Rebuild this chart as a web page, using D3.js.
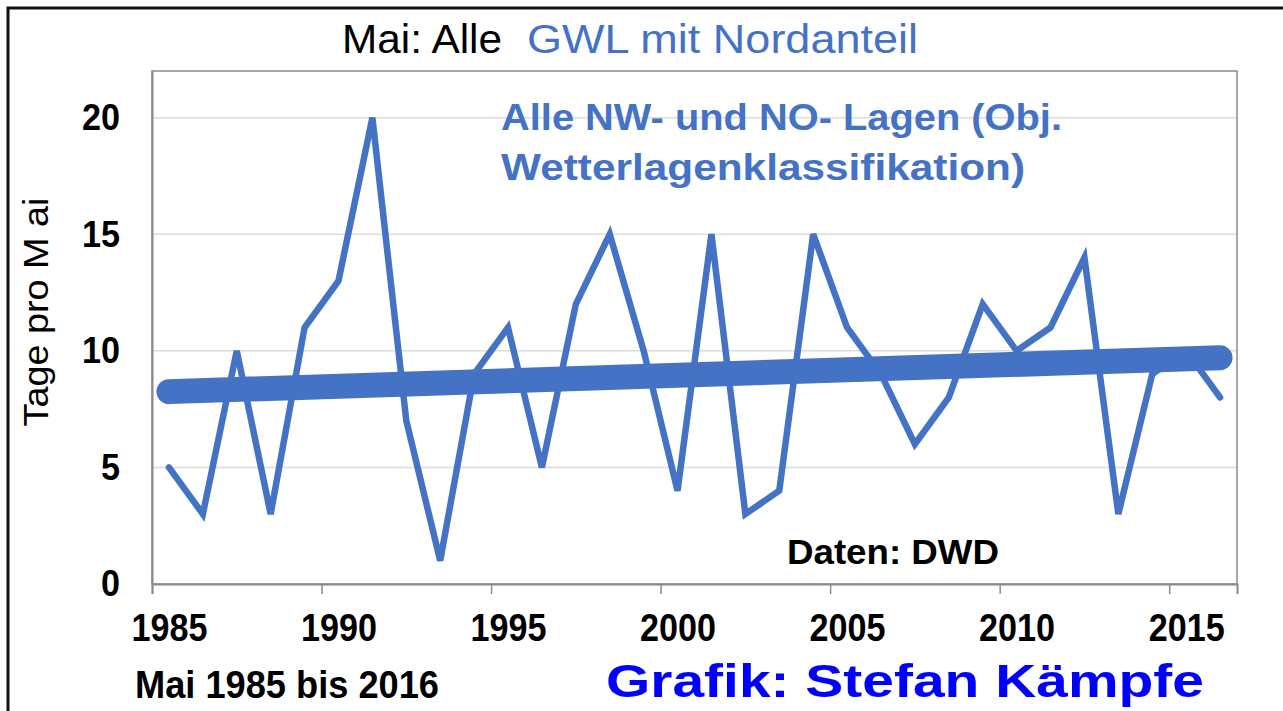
<!DOCTYPE html>
<html lang="de">
<head>
<meta charset="UTF-8">
<title>Mai: Alle GWL mit Nordanteil</title>
<script src="https://d3js.org/d3.v7.min.js"></script>
<style>
  * { margin: 0; padding: 0; box-sizing: border-box; }
  body { background: #fff; width: 1283px; height: 711px; overflow: hidden; }
  svg { display: block; font-family: "Liberation Sans", Arial, sans-serif; }
</style>
</head>
<body>
<svg id="chart" width="1283" height="711"></svg>
<script>
// Werte
const years = d3.range(1985, 2017);
const tage = [5, 3, 10, 3, 11, 13, 20, 7, 1, 9, 11, 5, 12, 15, 10, 4,
              15, 3, 4, 15, 11, 9, 6, 8, 12, 10, 11, 14, 3, 9, 10, 8];
const trendYears = [1985, 2016];
const trendValues = [8.25, 9.7];
const xTicks = [1985, 1990, 1995, 2000, 2005, 2010, 2015];
const yTicks = [0, 5, 10, 15, 20];

const blue = '#4472c4';
const plot = { left: 152, right: 1237, top: 71, bottom: 584 };

const svg = d3.select('#chart');

// Rahmen
svg.append('rect')
  .attr('x', 8).attr('y', 8)
  .attr('width', 1300).attr('height', 720)
  .attr('fill', '#fff')
  .attr('stroke', '#111')
  .attr('stroke-width', 3);

const x = d3.scaleLinear().domain([1985, 2017]).range([plot.left, plot.right]);
const y = d3.scaleLinear().domain([0, 22]).range([plot.bottom, plot.top]);
const half = x(1985.5) - x(1985);

// Gitterlinien
svg.append('g')
  .selectAll('line')
  .data(yTicks.filter(d => d > 0))
  .join('line')
  .attr('x1', plot.left).attr('x2', plot.right)
  .attr('y1', d => y(d)).attr('y2', d => y(d))
  .attr('stroke', '#dcdcdc')
  .attr('stroke-width', 1.5);

// Plotrahmen
svg.append('rect')
  .attr('x', plot.left).attr('y', plot.top)
  .attr('width', plot.right - plot.left)
  .attr('height', plot.bottom - plot.top)
  .attr('fill', 'none')
  .attr('stroke', '#8a8a8a')
  .attr('stroke-width', 1.5);

// x-Achse
const xAxis = svg.append('g')
  .attr('transform', `translate(0,${plot.bottom})`)
  .call(d3.axisBottom(x).tickValues(xTicks).tickFormat(d3.format('d')).tickSize(10).tickPadding(20));
xAxis.select('.domain').attr('stroke', '#8a8a8a').attr('stroke-width', 2);
xAxis.selectAll('.tick line').attr('stroke', '#8a8a8a').attr('stroke-width', 1.5);
xAxis.selectAll('.tick text')
  .attr('x', half)
  .attr('fill', '#000')
  .attr('font-family', '"Liberation Sans", Arial, sans-serif')
  .attr('font-size', 38)
  .attr('font-weight', 'bold')
  .attr('textLength', 76)
  .attr('lengthAdjust', 'spacingAndGlyphs');

// y-Achse
const yAxis = svg.append('g')
  .attr('transform', `translate(${plot.left},0)`)
  .call(d3.axisLeft(y).tickValues(yTicks).tickSize(0).tickPadding(32));
yAxis.select('.domain').attr('stroke', '#8a8a8a').attr('stroke-width', 2);
yAxis.selectAll('.tick text')
  .attr('fill', '#000')
  .attr('font-family', '"Liberation Sans", Arial, sans-serif')
  .attr('font-size', 37)
  .attr('font-weight', 'bold')
  .attr('textLength', d => String(d).length * 19)
  .attr('lengthAdjust', 'spacingAndGlyphs');

// Trendlinie
svg.append('path')
  .datum(trendYears.map((yr, i) => [yr, trendValues[i]]))
  .attr('fill', 'none')
  .attr('stroke', blue)
  .attr('stroke-width', 25)
  .attr('stroke-linecap', 'round')
  .attr('d', d3.line().x(d => x(d[0] + 0.5)).y(d => y(d[1])));

// Datenreihe
svg.append('path')
  .datum(years.map((yr, i) => [yr, tage[i]]))
  .attr('fill', 'none')
  .attr('stroke', blue)
  .attr('stroke-width', 6.5)
  .attr('stroke-linejoin', 'miter')
  .attr('stroke-linecap', 'round')
  .attr('d', d3.line().x(d => x(d[0] + 0.5)).y(d => y(d[1])));

// Texte
function label(txt, px, py, opts) {
  const t = svg.append('text')
    .attr('x', px).attr('y', py)
    .attr('font-size', opts.size)
    .attr('font-weight', opts.weight || 'normal')
    .attr('fill', opts.color || '#000')
    .text(txt);
  if (opts.len) t.attr('textLength', opts.len).attr('lengthAdjust', 'spacingAndGlyphs');
  if (opts.rotate) t.attr('transform', `rotate(-90,${px},${py})`).attr('text-anchor', 'middle');
  return t;
}

label('Mai: Alle', 342, 53, { size: 40, len: 160 });
label('GWL mit Nordanteil', 527, 53, { size: 40, len: 391, color: blue });
label('Alle NW- und NO- Lagen (Obj.', 501, 130, { size: 37, weight: 'bold', len: 561, color: blue });
label('Wetterlagenklassifikation)', 501, 180, { size: 37, weight: 'bold', len: 524, color: blue });
label('Daten: DWD', 787, 564, { size: 35, weight: 'bold', len: 212 });
label('Tage pro M ai', 48, 312, { size: 35, len: 229, rotate: true });
label('Mai 1985 bis 2016', 135, 698, { size: 38, weight: 'bold', len: 304 });
label('Grafik: Stefan Kämpfe', 606, 697, { size: 46, weight: 'bold', len: 598, color: '#0000ff' });
</script>
</body>
</html>
